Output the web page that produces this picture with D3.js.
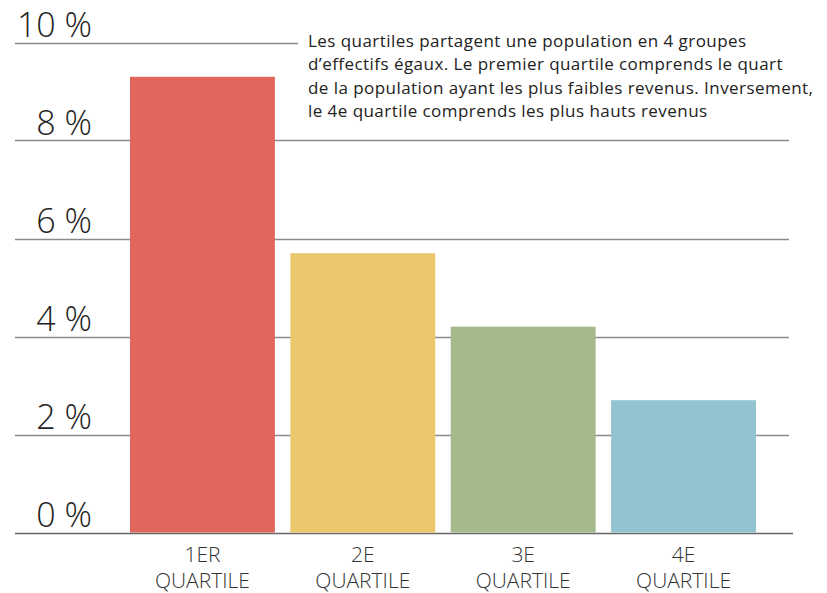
<!DOCTYPE html>
<html><head><meta charset="utf-8">
<script src="https://cdn.jsdelivr.net/npm/d3@7"></script>
<style>body{margin:0;background:#fff}svg{display:block}text{font-family:"Open Sans",sans-serif}</style>
</head><body><svg id="c" width="827" height="593"></svg>
<script>
const categories = [["1ER","QUARTILE"],["2E","QUARTILE"],["3E","QUARTILE"],["4E","QUARTILE"]];
const values = [9.3, 5.7, 4.2, 2.7];
const colors = ["#E0665E","#EAC76C","#A5BA8A","#92C3D0"];
const yTicks = [0,2,4,6,8,10];
const tickLabels = ["0 %","2 %","4 %","6 %","8 %","10 %"];
const note = ["Les quartiles partagent une population en 4 groupes",
  "d\u2019effectifs égaux. Le premier quartile comprends le quart",
  "de la population ayant les plus faibles revenus. Inversement,",
  "le 4e quartile comprends les plus hauts revenus"];

const svg = d3.select("#c");
const y = d3.scaleLinear().domain([0,10]).range([532.5,42.5]);
const x = d3.scaleBand().domain(d3.range(values.length)).range([130,756]).paddingInner(0.0966).paddingOuter(0);

// gridlines
svg.append("g").selectAll("line").data(yTicks).join("line")
  .attr("x1",15).attr("x2",d=> d===10?298:(d===0?793:789))
  .attr("y1",d=>Math.round(y(d))+0.5).attr("y2",d=>Math.round(y(d))+0.5)
  .attr("stroke",d=>d===0?"#666":"#8a8a8a").attr("stroke-width",1.3);

// tick labels
svg.append("g").selectAll("text").data(yTicks).join("text")
  .attr("x",92).attr("y",d=>y(d)-6).attr("text-anchor","end")
  .attr("font-size",34).attr("font-weight",300).attr("fill","#222")
  .text((d,i)=>tickLabels[i]);

// bars
svg.append("g").selectAll("rect").data(values).join("rect")
  .attr("x",(d,i)=>x(i)).attr("width",x.bandwidth())
  .attr("y",d=>y(d)).attr("height",d=>y(0)-y(d))
  .attr("fill",(d,i)=>colors[i]);

// category labels
const cl = svg.append("g").selectAll("text").data(categories).join("text")
  .attr("text-anchor","middle").attr("font-size",21).attr("font-weight",300).attr("fill","#333");
cl.each(function(d,i){
  const t=d3.select(this);
  d.forEach((s,j)=>t.append("tspan").attr("x",x(i)+x.bandwidth()/2).attr("y",562+j*26).text(s));
});

// annotation
svg.append("text").attr("font-size",17).attr("font-weight",400).attr("fill","#222")
  .attr("letter-spacing",0.45)
  .selectAll("tspan").data(note).join("tspan")
  .attr("x",308).attr("y",(d,i)=>47+i*23.4).text(d=>d);
</script></body></html>
